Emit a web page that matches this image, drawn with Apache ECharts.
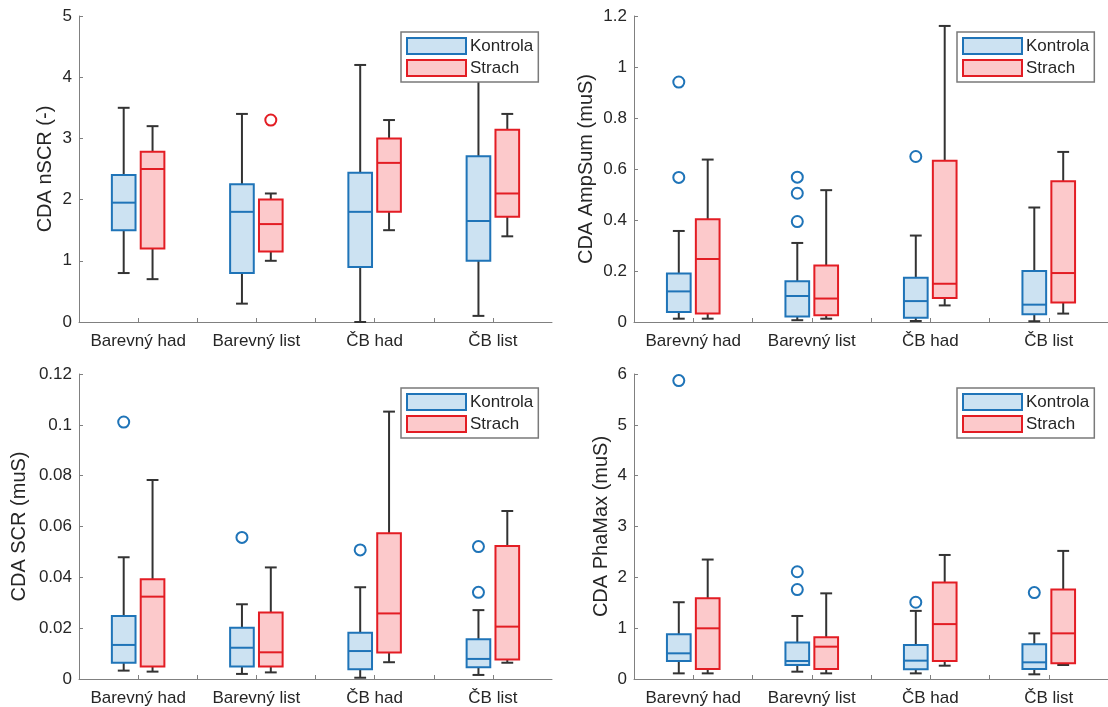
<!DOCTYPE html>
<html>
<head>
<meta charset="utf-8">
<script src="https://cdn.jsdelivr.net/npm/echarts@6/dist/echarts.min.js"></script>
<style>html,body{margin:0;padding:0;background:#fff}#c{width:1108px;height:707px}</style>
</head>
<body>
<div id="c"></div>
<script>
// ---- data ----
const categories = ['Barevný had', 'Barevný list', 'ČB had', 'ČB list'];
const groupNames = ['Kontrola', 'Strach'];
const yNames = ['CDA nSCR (-)', 'CDA AmpSum (muS)', 'CDA SCR (muS)', 'CDA PhaMax (muS)'];
const yMax = [5, 1.2, 0.12, 6];
const yStep = [1, 0.2, 0.02, 1];
// each row: [lower whisker, Q1, median, Q3, upper whisker], per category
const nscrKontrola = [[0.8, 1.5, 1.95, 2.4, 3.5], [0.3, 0.8, 1.8, 2.25, 3.4], [0, 0.9, 1.8, 2.44, 4.2], [0.1, 1.0, 1.65, 2.71, 4.1]];
const nscrStrach = [[0.7, 1.2, 2.5, 2.78, 3.2], [1.0, 1.15, 1.6, 2.0, 2.1], [1.5, 1.8, 2.6, 3.0, 3.3], [1.4, 1.72, 2.1, 3.14, 3.4]];
const ampKontrola = [[0.013, 0.039, 0.12, 0.19, 0.357], [0.007, 0.022, 0.102, 0.16, 0.31], [0.004, 0.017, 0.082, 0.174, 0.339], [0.003, 0.03, 0.068, 0.2, 0.449]];
const ampStrach = [[0.013, 0.033, 0.247, 0.403, 0.637], [0.013, 0.026, 0.092, 0.222, 0.517], [0.065, 0.094, 0.15, 0.632, 1.161], [0.033, 0.076, 0.192, 0.552, 0.667]];
const scrKontrola = [[0.0033, 0.0064, 0.0134, 0.0248, 0.0479], [0.002, 0.0049, 0.0123, 0.0202, 0.0294], [0.0005, 0.0038, 0.011, 0.0182, 0.0361], [0.0016, 0.0046, 0.0079, 0.0156, 0.0271]];
const scrStrach = [[0.0029, 0.0049, 0.0324, 0.0392, 0.0783], [0.0026, 0.0049, 0.0105, 0.0262, 0.0439], [0.0066, 0.0104, 0.0258, 0.0573, 0.1052], [0.0064, 0.0077, 0.0206, 0.0523, 0.0661]];
const phaKontrola = [[0.111, 0.354, 0.505, 0.879, 1.51], [0.144, 0.275, 0.354, 0.72, 1.24], [0.111, 0.19, 0.361, 0.669, 1.34], [0.092, 0.197, 0.328, 0.682, 0.898]];
const phaStrach = [[0.111, 0.197, 0.997, 1.587, 2.35], [0.111, 0.197, 0.636, 0.82, 1.685], [0.262, 0.354, 1.08, 1.9, 2.44], [0.275, 0.308, 0.898, 1.76, 2.52]];
// outliers: [category index, value]
const nscrKontrolaOut = [];
const nscrStrachOut = [[1, 3.3]];
const ampKontrolaOut = [[0, 0.941], [0, 0.567], [1, 0.568], [1, 0.505], [1, 0.394], [2, 0.649]];
const ampStrachOut = [];
const scrKontrolaOut = [[0, 0.1011], [1, 0.0557], [2, 0.0508], [3, 0.0521], [3, 0.0341]];
const scrStrachOut = [];
const phaKontrolaOut = [[0, 5.87], [1, 2.11], [1, 1.76], [2, 1.51], [3, 1.70]];
const phaStrachOut = [];

// ---- styling ----
const FONT = "'Liberation Sans', Arial, sans-serif";
const BLUE = '#1f74b8', BLUE_FILL = '#cce2f2';
const RED = '#e31d24', RED_FILL = '#fcc9cb';
const WHISK = '#333333';
const AXIS = '#808080', TXT = '#262626';
const OFFSET = 0.122, HALF = 0.1;

const panels = [
  { box: [nscrKontrola, nscrStrach], out: [nscrKontrolaOut, nscrStrachOut] },
  { box: [ampKontrola, ampStrach], out: [ampKontrolaOut, ampStrachOut] },
  { box: [scrKontrola, scrStrach], out: [scrKontrolaOut, scrStrachOut] },
  { box: [phaKontrola, phaStrach], out: [phaKontrolaOut, phaStrachOut] }
];
const grids = [
  { left: 79, top: 16, width: 473, height: 306 },
  { left: 634, top: 16, width: 475, height: 306 },
  { left: 79, top: 374, width: 473, height: 305 },
  { left: 634, top: 374, width: 475, height: 305 }
];
const nameGaps = [24, 38, 50, 23];
const legendPos = [[401, 32], [957, 32], [401, 388], [957, 388]];
const strokes = [BLUE, RED], fills = [BLUE_FILL, RED_FILL], sides = [-1, 1];

function boxSeries(name, data, gi, si) {
  const stroke = strokes[si], fill = fills[si], side = sides[si];
  return {
    type: 'custom', name, xAxisIndex: gi, yAxisIndex: gi, z: 3, silent: true,
    data: data.map((d, i) => [i + 1].concat(d)),
    renderItem: function (params, api) {
      const x = api.value(0) + side * OFFSET;
      const lo = api.value(1), q1 = api.value(2), md = api.value(3), q3 = api.value(4), hi = api.value(5);
      const cx = api.coord([x, lo])[0];
      const hw = api.size([HALF, 0])[0];
      const y = v => api.coord([x, v])[1];
      const wl = { stroke: WHISK, lineWidth: 2 };
      return {
        type: 'group', children: [
          { type: 'line', shape: { x1: cx, y1: y(q3), x2: cx, y2: y(hi) }, style: wl },
          { type: 'line', shape: { x1: cx, y1: y(q1), x2: cx, y2: y(lo) }, style: wl },
          { type: 'line', shape: { x1: cx - hw / 2, y1: y(hi), x2: cx + hw / 2, y2: y(hi) }, style: wl },
          { type: 'line', shape: { x1: cx - hw / 2, y1: y(lo), x2: cx + hw / 2, y2: y(lo) }, style: wl },
          { type: 'rect', shape: { x: cx - hw, y: y(q3), width: 2 * hw, height: y(q1) - y(q3) }, style: { fill, stroke, lineWidth: 2 } },
          { type: 'line', shape: { x1: cx - hw, y1: y(md), x2: cx + hw, y2: y(md) }, style: { stroke, lineWidth: 2 } }
        ]
      };
    }
  };
}
function outSeries(name, data, gi, si) {
  const stroke = strokes[si], side = sides[si];
  return {
    type: 'custom', name, xAxisIndex: gi, yAxisIndex: gi, z: 3, silent: true,
    data: data.map(d => [d[0] + 1, d[1]]),
    renderItem: function (params, api) {
      const p = api.coord([api.value(0) + side * OFFSET, api.value(1)]);
      return { type: 'circle', shape: { cx: p[0], cy: p[1], r: 5.5 }, style: { fill: 'none', stroke, lineWidth: 2 } };
    }
  };
}

const option = {
  animation: false,
  backgroundColor: '#fff',
  textStyle: { fontFamily: FONT },
  grid: grids.map(g => Object.assign({ containLabel: false }, g)),
  xAxis: grids.map((g, gi) => ({
    type: 'value', gridIndex: gi, min: 0.5, max: 4.5, interval: 0.5,
    splitLine: { show: false },
    axisLine: { show: true, onZero: false, lineStyle: { color: AXIS, width: 1 } },
    axisTick: { show: true, inside: true, length: 4, customValues: [1, 1.5, 2, 2.5, 3, 3.5, 4], lineStyle: { color: AXIS } },
    axisLabel: {
      customValues: [1, 2, 3, 4], margin: 11, color: TXT, fontSize: 17, fontFamily: FONT,
      formatter: v => categories[Math.round(v) - 1] || ''
    }
  })),
  yAxis: grids.map((g, gi) => ({
    type: 'value', gridIndex: gi, min: 0, max: yMax[gi], interval: yStep[gi],
    name: yNames[gi], nameLocation: 'middle', nameGap: nameGaps[gi],
    nameTextStyle: { fontSize: 20, color: TXT, fontFamily: FONT },
    splitLine: { show: false },
    axisLine: { show: true, lineStyle: { color: AXIS, width: 1 } },
    axisTick: { show: true, inside: true, length: 4, lineStyle: { color: AXIS } },
    axisLabel: { margin: 7, color: TXT, fontSize: 17, fontFamily: FONT }
  })),
  legend: legendPos.map(p => ({
    left: p[0], top: p[1], orient: 'vertical', selectedMode: false,
    backgroundColor: '#fff', borderColor: '#7a7a7a', borderWidth: 1.5,
    padding: [5, 5, 5, 5], itemGap: 4, itemWidth: 59, itemHeight: 16,
    textStyle: { fontSize: 17, color: TXT, fontFamily: FONT, padding: [0, 0, 0, -1] },
    data: groupNames.map((n, si) => ({ name: n, icon: 'rect', itemStyle: { color: fills[si], borderColor: strokes[si], borderWidth: 2 } })),
    z: 10
  })),
  series: []
};
panels.forEach((p, gi) => {
  [0, 1].forEach(si => {
    option.series.push(boxSeries(groupNames[si], p.box[si], gi, si));
    option.series.push(outSeries(groupNames[si], p.out[si], gi, si));
  });
});

const chart = echarts.init(document.getElementById('c'), null, { renderer: 'canvas' });
chart.setOption(option);
</script>
</body>
</html>
